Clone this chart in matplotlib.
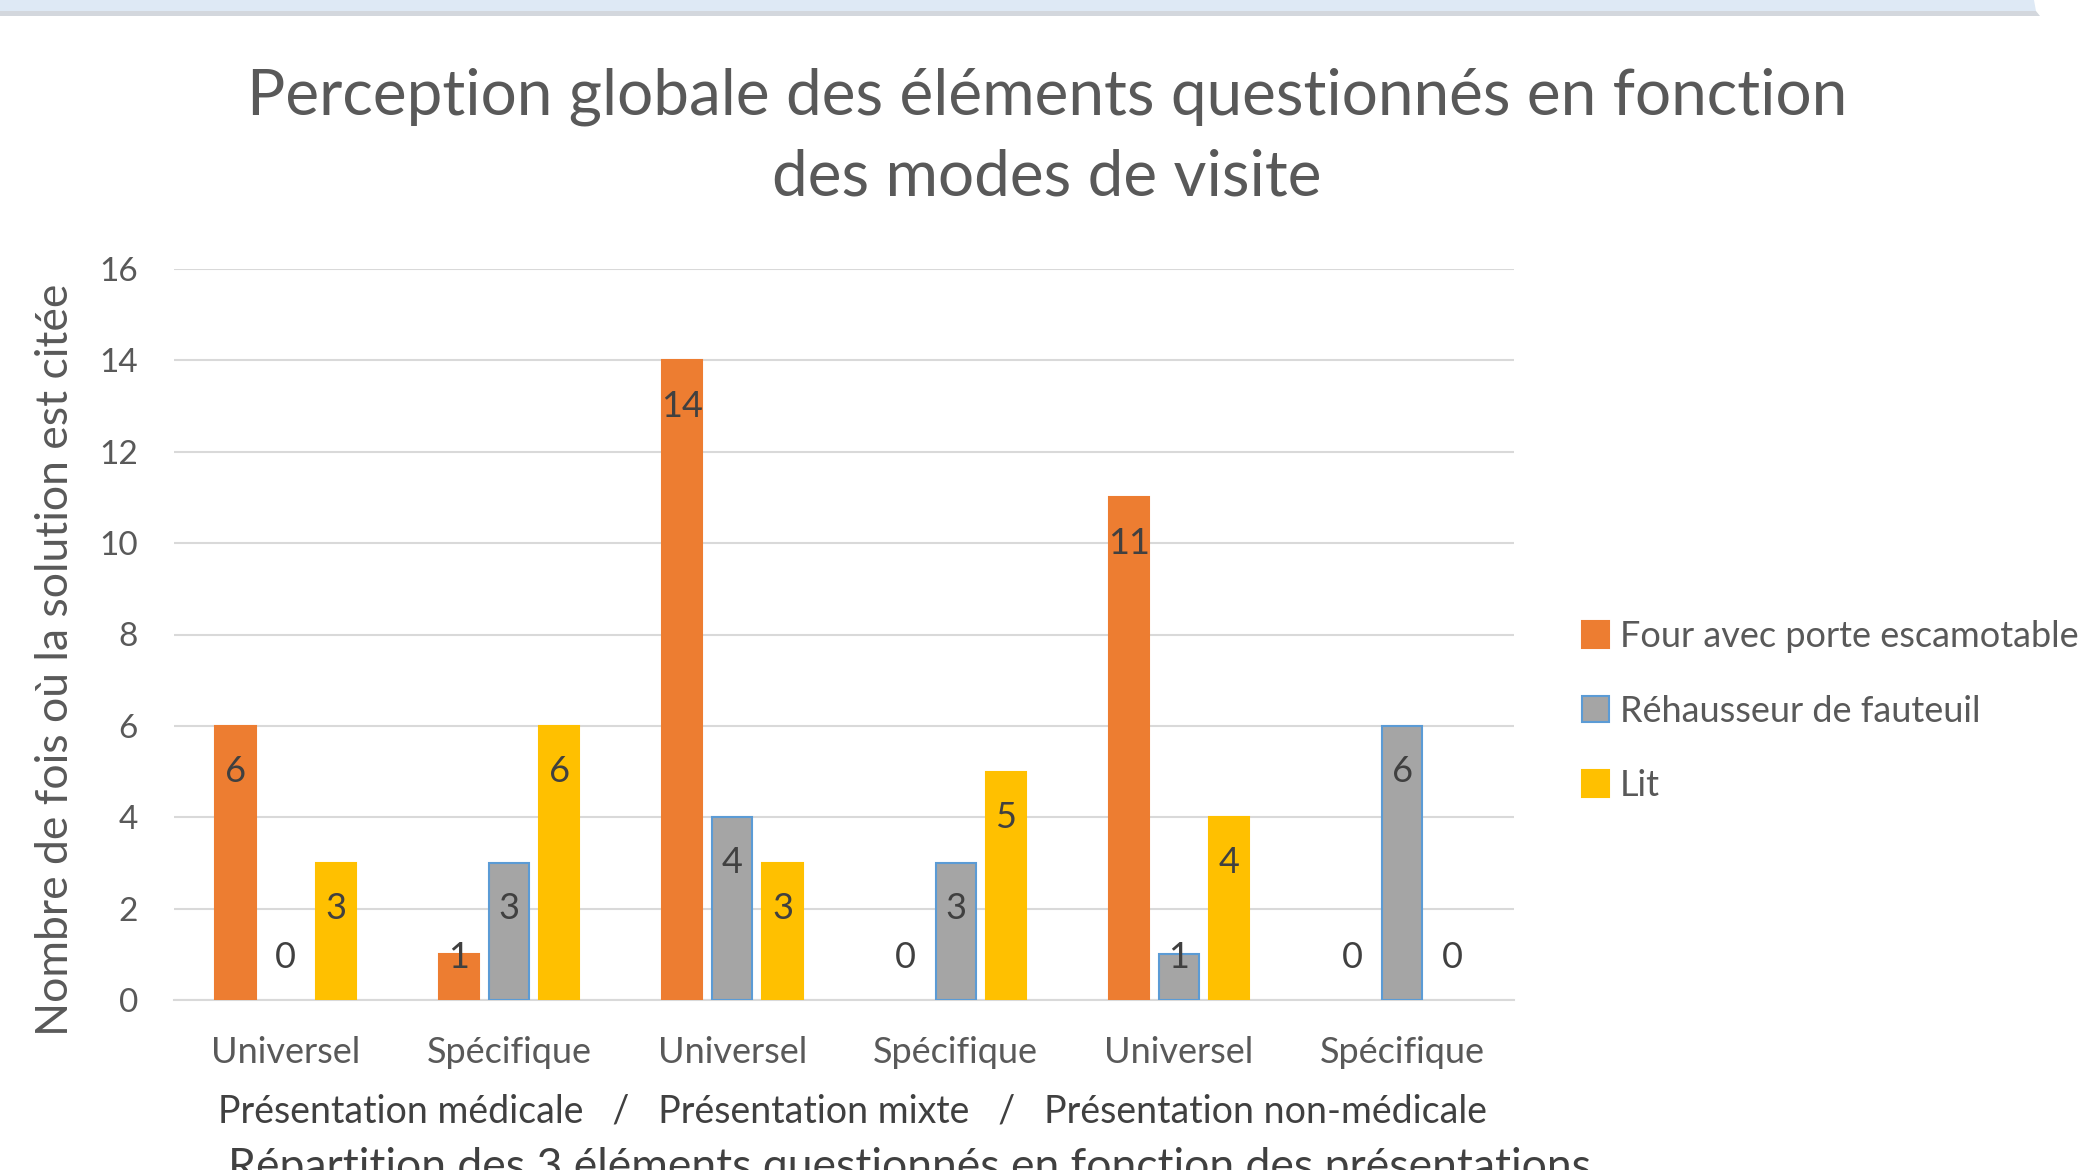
"""
plot.py

Perception globale des éléments questionnés en fonction des modes de visite.
"""

import matplotlib
matplotlib.use("Agg")
import matplotlib.pyplot as plt
from matplotlib.patches import Polygon
import numpy as np

# --- data ---
categories = ["Universel", "Spécifique", "Universel", "Spécifique", "Universel", "Spécifique"]
series_names = ["Four avec porte escamotable", "Réhausseur de fauteuil", "Lit"]
four = [6, 1, 14, 0, 11, 0]
rehausseur = [0, 3, 4, 3, 1, 6]
lit = [3, 6, 3, 5, 4, 0]
yticks = [0, 2, 4, 6, 8, 10, 12, 14, 16]

title = "Perception globale des éléments questionnés en fonction\ndes modes de visite"
ylabel = "Nombre de fois où la solution est citée"
group_line = "Présentation médicale   /   Présentation mixte   /   Présentation non-médicale"
xlabel = "Répartition des 3 éléments questionnés en fonction des présentations"

# --- style ---
plt.rcParams['font.family'] = ['Lato', 'DejaVu Sans']
TXT = "#595959"
colors = ["#ED7D31", "#A5A5A5", "#FFC000"]
edges = ["#ED7D31", "#5B9BD5", "#FFC000"]

W, H = 2081, 1170
fig = plt.figure(figsize=(W / 100, H / 100), dpi=100)
fig.patch.set_facecolor("white")

# header band of the slide
fig.patches.append(Polygon([[0, 1 - 11 / H], [2036 / W, 1 - 11 / H], [2034 / W, 1], [0, 1]],
                           closed=True, transform=fig.transFigure, facecolor="#DEE9F5",
                           edgecolor="none"))
fig.patches.append(Polygon([[0, 1 - 16 / H], [2040 / W, 1 - 16 / H], [2036 / W, 1 - 11 / H], [0, 1 - 11 / H]],
                           closed=True, transform=fig.transFigure, facecolor="#D3D7DD",
                           edgecolor="none"))

ax = fig.add_axes([174 / W, 1 - 1000 / H, (1514 - 174) / W, (1000 - 269) / H])

x = np.arange(len(categories))
bw = 0.18
step = 0.225
values = [four, rehausseur, lit]
for i, (vals, name) in enumerate(zip(values, series_names)):
    pos = x + (i - 1) * step
    ax.bar(pos, vals, width=bw, color=colors[i], edgecolor=edges[i],
           linewidth=[1.5 if v else 0 for v in vals], label=name, zorder=3)
    for px, v in zip(pos, vals):
        ly = max(v - 1, 0.93)
        ax.text(px, ly, str(v), ha="center", va="center", fontsize=26, color="#404040", zorder=4)

ax.set_xlim(-0.5, len(categories) - 0.5)
ax.set_ylim(0, 16)
ax.set_yticks(yticks)
ax.set_xticks(x)
ax.set_xticklabels(categories)
ax.tick_params(axis="both", length=0, colors=TXT)
ax.tick_params(axis="x", pad=26, labelsize=26)
ax.tick_params(axis="y", pad=26, labelsize=24)
ax.grid(axis="y", color="#D9D9D9", linewidth=1.5, zorder=0)
for s in ["top", "right", "left"]:
    ax.spines[s].set_visible(False)
ax.spines["bottom"].set_color("#D9D9D9")
ax.spines["bottom"].set_linewidth(1.5)

fig.text(1047 / W, 1 - 137 / H, title, ha="center", va="center", fontsize=46,
         color=TXT, linespacing=1.5)
fig.text(56 / W, 1 - 660 / H, ylabel, ha="center", va="center", rotation=90,
         fontsize=32, color=TXT)
fig.text(853 / W, 1 - 1111 / H, group_line, ha="center", va="center", fontsize=27, color="#404040")
fig.text(910 / W, 1 - 1167 / H, xlabel, ha="center", va="center", fontsize=32, color="#404040")

leg = fig.legend(loc="upper left", bbox_to_anchor=(1582 / W, 1 - 620 / H), frameon=False,
                 fontsize=26, labelcolor=TXT, handlelength=0.75, handleheight=0.75,
                 handletextpad=0.3, labelspacing=1.15, borderaxespad=0, borderpad=0)
for h in leg.legend_handles:
    h.set_linewidth(1.5)

fig.savefig("out.png", dpi=100)
